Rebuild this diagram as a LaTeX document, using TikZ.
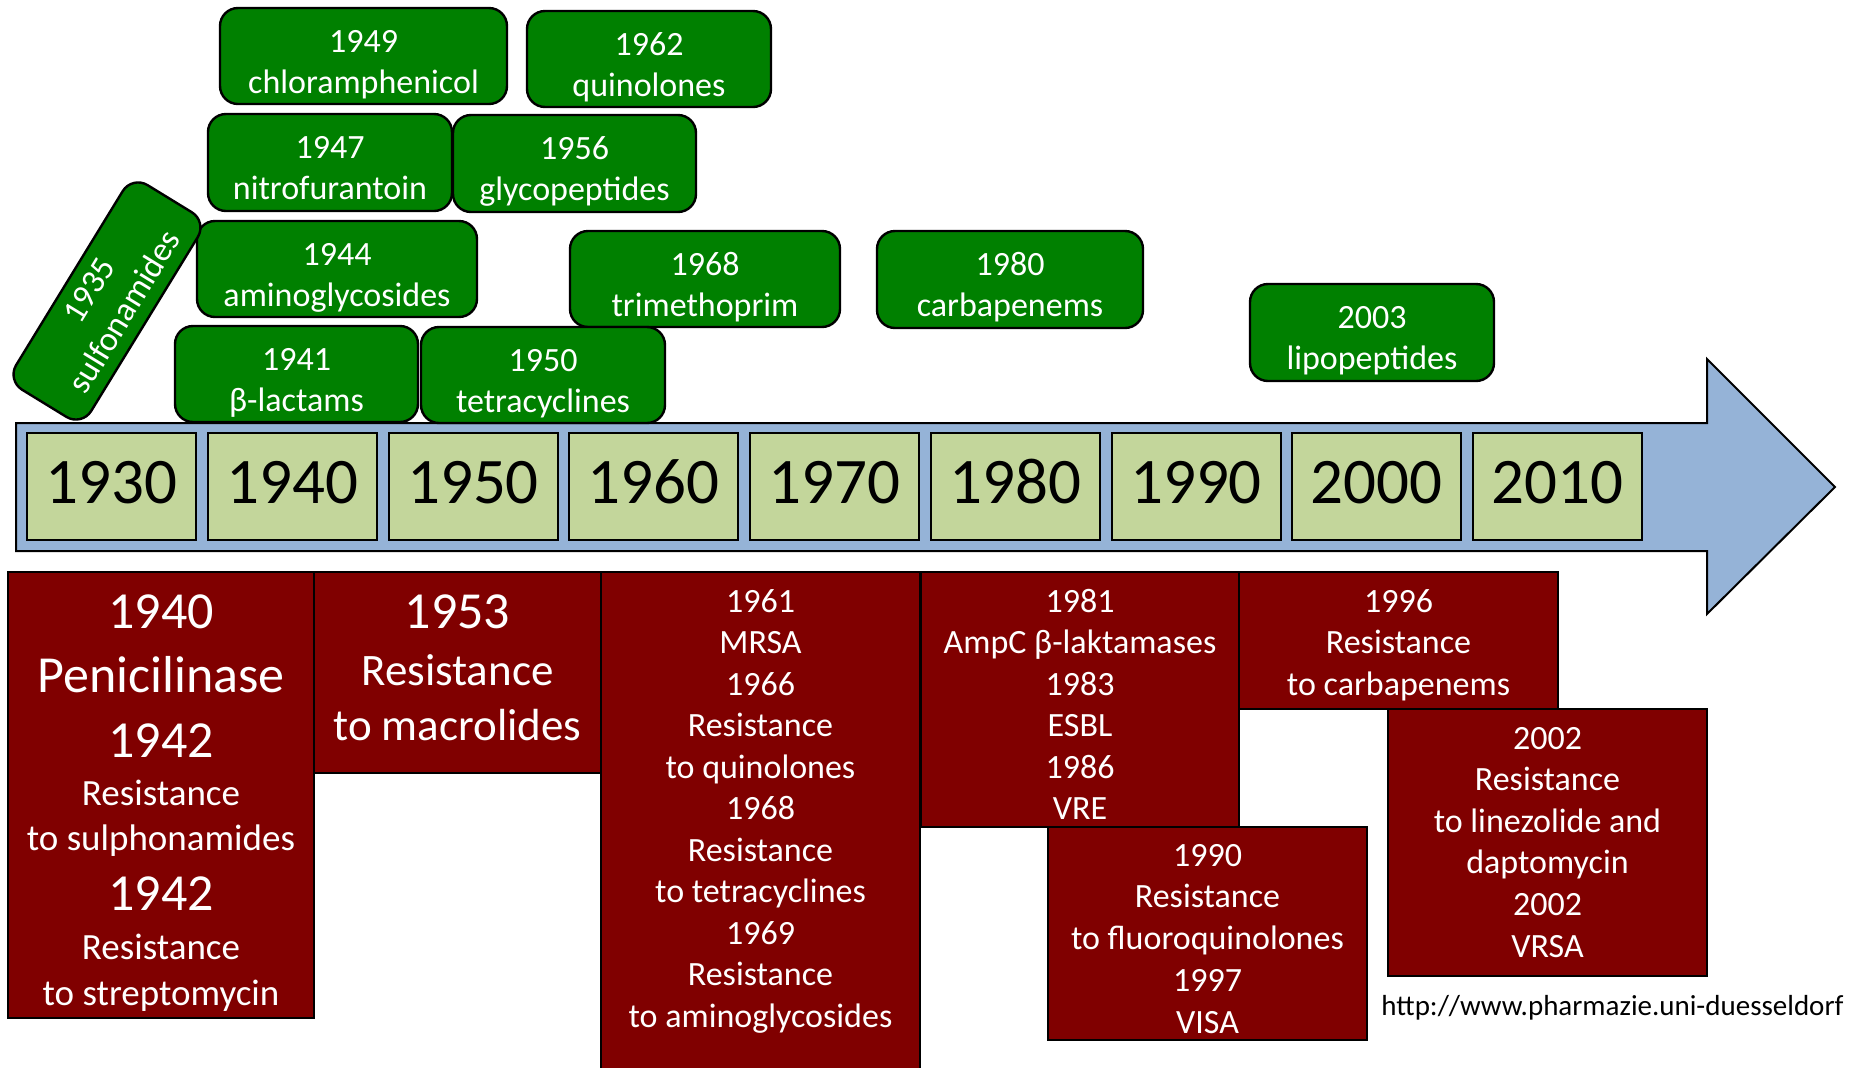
\documentclass[tikz,border=0pt]{standalone}
\usepackage{fontspec}
\setmainfont{Carlito}
\usetikzlibrary{positioning}

\definecolor{drugGreen}{RGB}{0,128,0}
\definecolor{resRed}{RGB}{128,0,0}
\definecolor{arrowBlue}{RGB}{149,179,215}
\definecolor{decadeFill}{RGB}{195,214,155}

\newcommand{\fsz}[1]{\fontsize{#1}{#1}\selectfont}

\begin{document}
\begin{tikzpicture}[x=0.5pt, y=-0.5pt,
    drug/.style={draw=black, fill=drugGreen, line width=1.2pt, rounded corners=9pt},
    resist/.style={draw=black, fill=resRed, line width=0.8pt},
    decade/.style={draw=black, fill=decadeFill, line width=1pt},
    wtxt/.style={text=white, anchor=base, inner sep=0pt, font=\fsz{17}}]
  \useasboundingbox (0,0) rectangle (1849,1067);

  % timeline arrow
  \draw[fill=arrowBlue, line width=1pt] (16,423) -- (1707,423) -- (1707,359) -- (1835,487)
    -- (1707,614) -- (1707,551) -- (16,551) -- cycle;

  % decades
  \foreach \d [count=\i from 0] in {1930,1940,...,2010} {
    \draw[decade] (27+180.75*\i,433) rectangle ++(169,107);
    \node[anchor=base, inner sep=0pt, font=\fsz{32.5}] (y\d) at (111.5+180.75*\i,503) {\d};
  }

  % antibiotic classes
  \foreach \xa/\ya/\xb/\yb/\yr/\cl in {220/8/507/104/1949/chloramphenicol,
      527/11/771/107/1962/quinolones, 208/114/452/211/1947/nitrofurantoin,
      453/115/696/212/1956/glycopeptides, 197/221/477/317/1944/aminoglycosides,
      570/231/840/327/1968/trimethoprim, 877/231/1143/328/1980/carbapenems,
      1250/284/1494/381/2003/lipopeptides, 175/326/418/422/1941/β-lactams,
      421/327/665/423/1950/tetracyclines} {
    \draw[drug] (\xa,\ya) rectangle (\xb,\yb);
    \node[wtxt] (g\yr) at ({(\xa+\xb)/2},\ya+44) {\yr};
    \node[wtxt] (d\yr) at ({(\xa+\xb)/2},\ya+85) {\cl};
  }
  \node[drug, rotate=58.5, minimum width=120pt, minimum height=44pt, inner sep=0pt,
    align=center, text=white, font=\fontsize{17}{20.5}\selectfont] (sulfa) at (107,301)
    {1935\\sulfonamides};

  % resistance
  \draw[resist] (8,572) rectangle (314,1018);
  \draw[resist] (314,572) rectangle (601,773);
  \draw[resist] (601,572) rectangle (920,1075);
  \draw[resist] (921,572) rectangle (1239,827);
  \draw[resist] (1239,572) rectangle (1558,709);
  \draw[resist] (1048,827) rectangle (1367,1040);
  \draw[resist] (1388,709) rectangle (1707,976);

  \foreach \y/\f/\t [count=\i] in {628/26/1940, 692/26/Penicilinase, 757/26/1942,
      805/18.5/Resistance, 850/18.5/to sulphonamides, 910/26/1942,
      959/18.5/Resistance, 1005/18.5/to streptomycin}
    \node[wtxt, font=\fsz{\f}] (a\i) at (161,\y) {\t};
  \foreach \y/\f/\t [count=\i] in {628/26/1953, 685/22.5/Resistance, 740/22.5/to macrolides}
    \node[wtxt, font=\fsz{\f}] (b\i) at (457.5,\y) {\t};
  \foreach \t [count=\i from 0] in {1961, MRSA, 1966, Resistance, to quinolones, 1968,
      Resistance, to tetracyclines, 1969, Resistance, to aminoglycosides}
    \node[wtxt] (c\i) at (760.5,612+41.5*\i) {\t};
  \foreach \t [count=\i from 0] in {1981, AmpC β-laktamases, 1983, ESBL, 1986, VRE}
    \node[wtxt] (e\i) at (1080,612+41.5*\i) {\t};
  \foreach \t [count=\i from 0] in {1996, Resistance, to carbapenems}
    \node[wtxt] (f\i) at (1398.5,612+41.5*\i) {\t};
  \foreach \t [count=\i from 0] in {1990, Resistance, to fluoroquinolones, 1997, VISA}
    \node[wtxt] (h\i) at (1207.5,866+41.75*\i) {\t};
  \foreach \t [count=\i from 0] in {2002, Resistance, to linezolide and, daptomycin, 2002, VRSA}
    \node[wtxt] (k\i) at (1547.5,749+41.6*\i) {\t};

  \node[anchor=base west, inner sep=0pt, font=\fsz{14.5}] (src) at (1381,1015)
    {http://www.pharmazie.uni-duesseldorf};
\end{tikzpicture}
\end{document}
